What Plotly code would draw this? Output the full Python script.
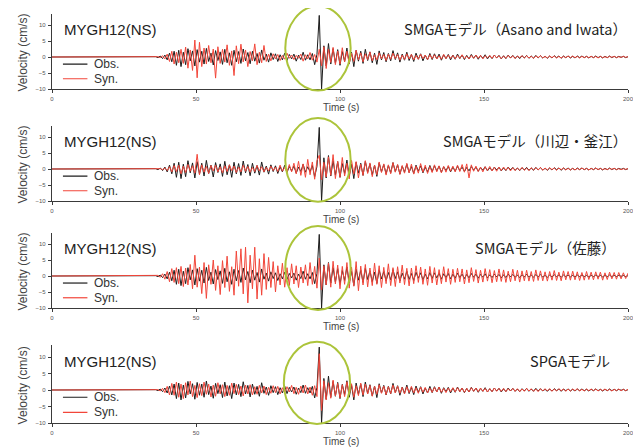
import plotly.graph_objects as go

# ---------------- data ----------------
T_START = 36.0   # s, time of the first digitised sample after the quiet lead-in
T_STEP = 0.8     # s, spacing of the digitised samples

# Observed NS velocity (cm/s) at MYGH12, same record in all four panels
OBS = [
    0.1, -0.2, 0.3, -0.5, 0.6, -0.9, 1.2, -1.5, 1.8, -2.6,
    2.1, -3.0, 1.5, -2.4, 2.6, -1.2, 1.9, -2.8, 2.3, -1.6,
    1.8, -2.2, 2.7, -1.4, 1.2, -2.5, 2.0, -1.1, 1.6, -2.3,
    2.4, -1.8, 1.3, -2.6, 2.1, -1.5, 1.7, -2.0, 2.5, -1.2,
    1.4, -2.1, 1.8, -1.3, 1.1, -1.9, 2.2, -1.0, 0.9, -1.6,
    1.3, -0.8, 1.0, -1.4, 0.7, -0.9, 1.2, -1.1, 0.8, -0.6,
    0.9, -1.3, 0.6, -0.8, 1.5, -1.0, 0.7, -0.9, 1.1, -2.4,
    0.8, 13.0, -10.0, 3.5, -2.8, 4.2, -2.2, 2.6, -1.9, 2.3,
    -2.6, 1.7, -1.4, 2.8, -2.2, 1.5, -3.0, 2.1, -1.3, 1.8,
    -2.0, 2.4, -1.1, 1.6, -1.8, 1.2, -2.3, 1.9, -0.9, 1.4,
    -1.5, 1.1, -1.2, 2.0, -0.8, 1.3, -1.6, 0.9, -1.0, 1.5,
    -1.1, 0.8, -1.4, 1.2, -0.7, 1.0, -1.2, 0.6, -0.9, 1.1,
    -0.8, 1.0, -0.6, 0.9, -1.0, 0.7, -0.5, 0.8, -0.9, 0.6,
    -0.7, 0.9, -0.5, 0.6, -0.8, 0.5, -0.6, 0.8, -0.4, 0.6,
    -0.7, 0.5, -0.4, 0.7, -0.6, 0.4, -0.5, 0.6, -0.3, 0.5,
    -0.6, 0.4, -0.5, 0.6, -0.3, 0.5, -0.4, 0.3, -0.5, 0.4,
    -0.3, 0.5, -0.4, 0.3, -0.4, 0.5, -0.3, 0.4, -0.3, 0.2,
    -0.4, 0.3, -0.3, 0.4, -0.2, 0.3, -0.4, 0.3, -0.2, 0.3,
    -0.3, 0.2, -0.3, 0.3, -0.2, 0.3, -0.2, 0.2, -0.3, 0.2,
    -0.2, 0.3, -0.2, 0.2, -0.3, 0.2, -0.2, 0.3, -0.2, 0.2,
    -0.2, 0.2, -0.1, 0.2, -0.2, 0.1,
]

# Synthetic: SMGA model (Asano and Iwata)
SYN_ASANO = [
    0.0, 0.1, -0.2, 0.4, -0.6, 0.9, -1.4, 1.8, -2.2, 1.5,
    -1.8, 2.4, -2.0, 3.1, -3.5, 2.2, -4.2, 5.3, -6.5, 4.6,
    -3.0, 2.8, -2.2, 3.6, -1.8, 2.5, -6.6, 3.2, -2.0, 2.4,
    -1.6, 3.8, -2.6, 1.9, -5.8, 3.5, -2.1, 4.0, -1.5, 2.2,
    -3.0, 1.7, -1.2, 4.1, -2.4, 1.5, -1.8, 3.6, -1.4, 0.9,
    -1.2, 1.0, -0.6, 0.8, -1.1, 0.5, -0.7, 1.2, -0.4, 0.6,
    -0.8, 0.5, -0.4, 0.9, -1.3, 0.7, -0.6, 1.4, -1.0, 0.8,
    -1.6, 2.4, -2.8, 3.2, -3.6, 2.5, -1.7, 3.0, -2.4, 1.9,
    -2.2, 2.9, -1.5, 1.8, -2.0, 1.2, -1.4, 2.1, -0.9, 1.3,
    -1.5, 1.0, -0.8, 1.6, -1.2, 0.7, -0.9, 1.3, -0.6, 0.8,
    -1.1, 0.9, -0.7, 1.2, -0.5, 0.8, -1.0, 0.6, -0.8, 1.0,
    -0.6, 0.8, -0.9, 0.5, -0.7, 0.9, -0.5, 0.6, -0.8, 0.7,
    -0.5, 0.7, -0.6, 0.4, -0.7, 0.8, -0.5, 0.6, -0.4, 0.5,
    -0.6, 0.5, -0.4, 0.7, -0.5, 0.3, -0.6, 0.5, -0.4, 0.6,
    -0.4, 0.5, -0.6, 0.4, -0.3, 0.5, -0.4, 0.6, -0.3, 0.4,
    -0.5, 0.3, -0.4, 0.5, -0.3, 0.4, -0.5, 0.3, -0.2, 0.4,
    -0.3, 0.4, -0.3, 0.2, -0.4, 0.3, -0.2, 0.4, -0.3, 0.2,
    -0.3, 0.3, -0.2, 0.3, -0.3, 0.2, -0.3, 0.2, -0.2, 0.3,
    -0.2, 0.3, -0.2, 0.2, -0.3, 0.2, -0.2, 0.2, -0.2, 0.2,
    -0.2, 0.2, -0.3, 0.2, -0.2, 0.1, -0.2, 0.2, -0.1, 0.2,
    -0.2, 0.1, -0.1, 0.2, -0.1, 0.1,
]

# Synthetic: SMGA model (Kawabe & Kamae)
SYN_KAWABE = [
    0.0, 0.0, 0.1, -0.2, 0.3, -0.5, 0.7, -0.9, 1.1, -0.8,
    1.2, -1.5, 0.9, -1.1, 1.4, -0.7, 1.0, -1.3, 4.6, -1.8,
    1.3, -1.0, 0.8, -1.4, 1.1, -0.6, 1.2, -0.9, 0.7, -1.2,
    1.0, -0.8, 1.3, -0.5, 0.9, -1.1, 0.6, -0.9, 1.2, -0.7,
    0.8, -1.0, 0.5, -0.8, 1.1, -0.6, 0.7, -0.9, 0.5, -0.6,
    0.9, -0.5, 0.6, -0.8, 1.2, -0.7, 0.5, -1.0, 1.4, -0.9,
    1.8, -1.5, 2.4, -2.0, 1.6, -2.6, 3.0, -1.8, 2.2, -3.2,
    2.6, 4.3, -3.4, 2.1, -2.5, 3.8, -2.0, 4.5, -3.0, 2.4,
    -2.6, 3.6, -2.2, 1.8, -3.1, 2.7, -1.6, 2.3, -2.8, 1.5,
    -2.0, 2.6, -1.4, 1.9, -2.4, 1.2, -1.8, 2.2, -1.1, 1.6,
    -1.9, 1.3, -1.5, 2.0, -1.0, 1.4, -1.7, 1.1, -1.3, 1.8,
    -1.2, 1.5, -1.6, 0.9, -1.3, 1.7, -1.0, 1.2, -1.4, 0.8,
    -1.1, 1.3, -0.9, 1.0, -1.2, 0.8, -1.0, 1.1, -0.7, 0.9,
    -0.9, 1.2, -0.8, 1.4, -1.0, 1.6, -2.8, 1.3, -0.7, 0.9,
    -0.8, 0.6, -0.9, 0.7, -0.5, 0.8, -0.6, 0.5, -0.7, 0.6,
    -0.5, 0.6, -0.4, 0.5, -0.6, 0.4, -0.5, 0.3, -0.4, 0.5,
    -0.4, 0.3, -0.5, 0.4, -0.3, 0.4, -0.3, 0.5, -0.4, 0.3,
    -0.3, 0.4, -0.2, 0.3, -0.4, 0.3, -0.2, 0.3, -0.3, 0.2,
    -0.3, 0.2, -0.3, 0.2, -0.2, 0.3, -0.2, 0.2, -0.3, 0.2,
    -0.2, 0.3, -0.2, 0.2, -0.2, 0.1, -0.2, 0.2, -0.1, 0.2,
    -0.2, 0.1, -0.2, 0.1, -0.1, 0.1,
]

# Synthetic: SMGA model (Sato)
SYN_SATO = [
    0.0, 0.2, -0.4, 0.7, -1.0, 1.4, -1.8, 2.3, -2.0, 2.6,
    -2.4, 3.0, -3.3, 2.5, -2.8, 3.6, -4.0, 6.5, -3.5, 2.8,
    -5.5, 4.2, -7.0, 3.5, -2.6, 5.0, -4.5, 3.2, -5.8, 4.8,
    -3.6, 6.2, -4.8, 2.9, -6.0, 7.8, -3.2, 8.5, -5.6, 9.0,
    -8.4, 6.5, -4.0, 9.0, -7.2, 5.4, -6.0, 7.0, -4.2, 5.8,
    -3.6, 4.5, -5.0, 3.2, -2.8, 4.0, -3.5, 2.6, -3.0, 3.8,
    -2.5, 3.2, -3.6, 2.8, -2.2, 3.5, -3.0, 4.2, -2.6, 3.0,
    -3.8, 5.6, -4.4, 3.2, -2.8, 4.0, -3.5, 4.6, -2.5, 3.4,
    -4.0, 3.0, -2.6, 4.2, -3.8, 2.8, -3.2, 4.5, -4.6, 3.1,
    -2.8, 3.6, -3.4, 2.5, -3.0, 4.0, -2.6, 3.2, -3.6, 2.7,
    -2.4, 3.8, -3.0, 2.6, -3.3, 2.9, -2.2, 3.4, -2.7, 2.4,
    -3.1, 2.5, -2.4, 3.2, -2.0, 2.8, -2.6, 2.2, -2.9, 3.0,
    -2.2, 2.6, -2.8, 2.0, -2.4, 2.9, -1.9, 2.3, -2.6, 2.1,
    -2.0, 2.4, -1.8, 2.2, -2.5, 1.9, -2.1, 2.6, -1.7, 2.0,
    -2.2, 1.8, -1.9, 2.3, -1.6, 2.0, -2.1, 1.7, -1.8, 2.2,
    -1.7, 1.9, -2.0, 1.5, -1.8, 2.1, -1.5, 1.8, -1.9, 1.6,
    -1.5, 1.8, -1.6, 1.4, -1.7, 1.9, -1.4, 1.6, -1.5, 1.3,
    -1.6, 1.4, -1.3, 1.7, -1.4, 1.2, -1.5, 1.6, -1.2, 1.4,
    -1.3, 1.5, -1.2, 1.3, -1.4, 1.1, -1.3, 1.4, -1.1, 1.2,
    -1.2, 1.3, -1.0, 1.2, -1.3, 1.0, -1.1, 1.2, -0.9, 1.1,
    -1.0, 1.1, -0.9, 1.0, -0.8, 0.9,
]

# Synthetic: SPGA model
SYN_SPGA = [
    0.0, 0.1, -0.3, 0.5, -0.8, 1.1, -1.5, 2.0, -1.6, 2.4,
    -2.2, 1.8, -2.6, 2.2, -1.5, 2.7, -2.0, 1.4, -2.3, 1.9,
    -1.7, 2.4, -1.3, 1.8, -2.1, 1.5, -1.9, 2.2, -1.2, 1.6,
    -2.0, 1.4, -1.6, 2.1, -1.1, 1.7, -1.4, 1.2, -1.8, 1.5,
    -1.2, 1.6, -1.5, 1.0, -1.3, 1.4, -0.9, 1.2, -1.4, 0.8,
    -1.0, 1.3, -0.8, 1.1, -1.2, 0.7, -0.9, 1.0, -0.6, 1.4,
    -1.1, 0.8, -1.3, 1.2, -0.9, 1.5, -1.2, 0.9, -1.6, 1.3,
    -2.0, 11.0, -6.2, 2.8, -3.0, 2.2, -2.5, 3.0, -1.8, 2.0,
    -2.4, 1.6, -2.0, 2.5, -1.4, 1.9, -2.2, 1.3, -1.7, 2.1,
    -1.5, 1.8, -1.2, 1.4, -1.9, 1.1, -1.3, 1.6, -1.0, 1.2,
    -1.4, 1.0, -1.1, 1.5, -0.9, 1.2, -1.0, 0.8, -1.2, 1.0,
    -0.8, 1.1, -0.9, 0.7, -1.0, 0.9, -0.7, 0.8, -0.9, 0.6,
    -0.7, 0.8, -0.6, 0.9, -0.7, 0.5, -0.8, 0.6, -0.5, 0.7,
    -0.6, 0.7, -0.5, 0.6, -0.7, 0.5, -0.6, 0.7, -0.4, 0.6,
    -0.5, 0.6, -0.4, 0.5, -0.6, 0.4, -0.5, 0.6, -0.4, 0.5,
    -0.4, 0.5, -0.5, 0.4, -0.3, 0.5, -0.4, 0.4, -0.5, 0.3,
    -0.4, 0.5, -0.3, 0.4, -0.4, 0.3, -0.5, 0.4, -0.3, 0.4,
    -0.3, 0.4, -0.4, 0.3, -0.3, 0.4, -0.2, 0.3, -0.4, 0.3,
    -0.3, 0.3, -0.2, 0.4, -0.3, 0.2, -0.3, 0.3, -0.2, 0.3,
    -0.2, 0.3, -0.3, 0.2, -0.2, 0.3, -0.2, 0.2, -0.3, 0.2,
    -0.2, 0.3, -0.2, 0.2, -0.2, 0.2,
]

STATION = "MYGH12(NS)"
MODEL_TITLES = ["SMGAモデル（Asano and Iwata）", "SMGAモデル（川辺・釜江）",
                "SMGAモデル（佐藤）", "SPGAモデル"]
SYN_SERIES = [SYN_ASANO, SYN_KAWABE, SYN_SATO, SYN_SPGA]
SERIES_NAMES = ["Obs.", "Syn."]
X_TICKS = [0, 50, 100, 150, 200]
Y_TICKS = [-10, -5, 0, 5, 10]
X_TITLE = "Time (s)"
Y_TITLE = "Velocity (cm/s)"

# ---------------- styling / layout ----------------
PAGE_OFFSET = 8            # the html page body margin in front of the figure
W, H = 641 - PAGE_OFFSET, 448 - PAGE_OFFSET
X_RANGE = [0, 200]
Y_RANGE = [-10, 13.5]
PLOT_LEFT, PLOT_RIGHT = 52, 628          # screen pixels
# screen pixel rows of the -10 axis line and of the zero line in each panel
PANEL_ROWS = [(89, 57), (201, 169), (308, 276), (423, 390)]
# highlighted window (s) and vertical extent (cm/s) of the green ellipses
ELLIPSES = [(81.0, 103.7, -10.5, 15.9), (81.0, 103.7, -10.2, 15.9),
            (81.0, 103.7, -10.6, 15.6), (80.5, 103.5, -10.3, 14.6)]
# anchor (in s) and extra pixel shift of the right end of each model title
TITLE_RIGHT = [200.0, 200.0, 196.5, 194.5]
TITLE_XSHIFT = [1, 1, 0, 0]

OBS_COLOR = "#1c1c1c"
SYN_COLOR = "#f2463a"
ELLIPSE_COLOR = "#acc43a"
LATIN = "Liberation Sans, Arial, sans-serif"
JP = "Noto Sans CJK JP, sans-serif"


def sample_times(series):
    return [0.0] + [T_START + T_STEP * i for i in range(len(series))]


def fx(px):
    return (px - PAGE_OFFSET) / W


def fy(py):
    return 1 - (py - PAGE_OFFSET) / H


fig = go.Figure()
annotations = []
shapes = []
layout_axes = {}

for k, (syn, title, (row_bottom, row_zero), ell, t_right, t_shift) in enumerate(
        zip(SYN_SERIES, MODEL_TITLES, PANEL_ROWS, ELLIPSES, TITLE_RIGHT,
            TITLE_XSHIFT), start=1):
    sfx = "" if k == 1 else str(k)
    xa, ya = "x" + sfx, "y" + sfx
    ppu = (row_bottom - row_zero) / 10.0
    top_px = row_zero - Y_RANGE[1] * ppu
    ydom = [fy(row_bottom), fy(top_px)]

    fig.add_trace(go.Scatter(x=sample_times(OBS), y=[0.0] + OBS, mode="lines",
                             name=SERIES_NAMES[0], showlegend=False,
                             line=dict(color=OBS_COLOR, width=1),
                             xaxis=xa, yaxis=ya))
    fig.add_trace(go.Scatter(x=sample_times(syn), y=[0.0] + syn, mode="lines",
                             name=SERIES_NAMES[1], showlegend=False,
                             line=dict(color=SYN_COLOR, width=1),
                             xaxis=xa, yaxis=ya))

    axis_common = dict(showgrid=False, zeroline=False, showline=True,
                       linecolor="#3a3a3a", linewidth=1.2, ticks="outside",
                       ticklen=3, tickwidth=1, tickcolor="#3a3a3a",
                       automargin=False,
                       tickfont=dict(family=LATIN, size=6, color="#555"))
    layout_axes["xaxis" + sfx] = dict(domain=[fx(PLOT_LEFT), fx(PLOT_RIGHT)],
                                      range=X_RANGE, anchor=ya, tickvals=X_TICKS,
                                      ticklabelstandoff=1, **axis_common)
    layout_axes["yaxis" + sfx] = dict(domain=ydom, range=Y_RANGE, anchor=xa,
                                      tickvals=Y_TICKS, ticklabelstandoff=1,
                                      **axis_common)

    span = Y_RANGE[1] - Y_RANGE[0]
    shapes.append(dict(type="circle", xref=xa + " domain", yref=ya + " domain",
                       x0=(ell[0] - X_RANGE[0]) / (X_RANGE[1] - X_RANGE[0]),
                       x1=(ell[1] - X_RANGE[0]) / (X_RANGE[1] - X_RANGE[0]),
                       y0=(ell[2] - Y_RANGE[0]) / span,
                       y1=(ell[3] - Y_RANGE[0]) / span,
                       line=dict(color=ELLIPSE_COLOR, width=2)))

    # legend-like key (line samples + labels)
    for (name, color, yv) in [(SERIES_NAMES[0], OBS_COLOR, -2.2),
                              (SERIES_NAMES[1], SYN_COLOR, -6.8)]:
        shapes.append(dict(type="line", xref=xa, yref=ya, x0=3.8, x1=12.3,
                           y0=yv, y1=yv, line=dict(color=color, width=1.2)))
        annotations.append(dict(text=name, xref=xa, yref=ya, x=13.8, y=yv,
                                xanchor="left", yanchor="middle", showarrow=False,
                                font=dict(family=LATIN, size=12, color="#333")))

    annotations.append(dict(text=STATION, xref=xa, yref=ya, x=3.6, y=8.6,
                            xanchor="left", yanchor="middle", showarrow=False,
                            font=dict(family=LATIN, size=15, color="#222")))
    annotations.append(dict(text=title, xref=xa, yref=ya, x=t_right, y=8.8,
                            xshift=t_shift,
                            xanchor="right", yanchor="middle", showarrow=False,
                            font=dict(family=JP, size=14.5, color="#222")))
    annotations.append(dict(text=X_TITLE, xref=xa, yref=ya + " domain", x=100.5,
                            y=0, yshift=-18.5, xanchor="center", yanchor="middle",
                            showarrow=False,
                            font=dict(family=LATIN, size=10, color="#444")))
    annotations.append(dict(text=Y_TITLE, xref="paper", yref=ya, x=fx(23), y=1.4,
                            xanchor="center", yanchor="middle", textangle=-90,
                            showarrow=False,
                            font=dict(family=LATIN, size=12, color="#444")))

fig.update_layout(width=W, height=H,
                  margin=dict(l=0, r=0, t=0, b=0, autoexpand=False),
                  paper_bgcolor="white", plot_bgcolor="white",
                  showlegend=False, annotations=annotations, shapes=shapes,
                  **layout_axes)

fig.write_html("out.html")
